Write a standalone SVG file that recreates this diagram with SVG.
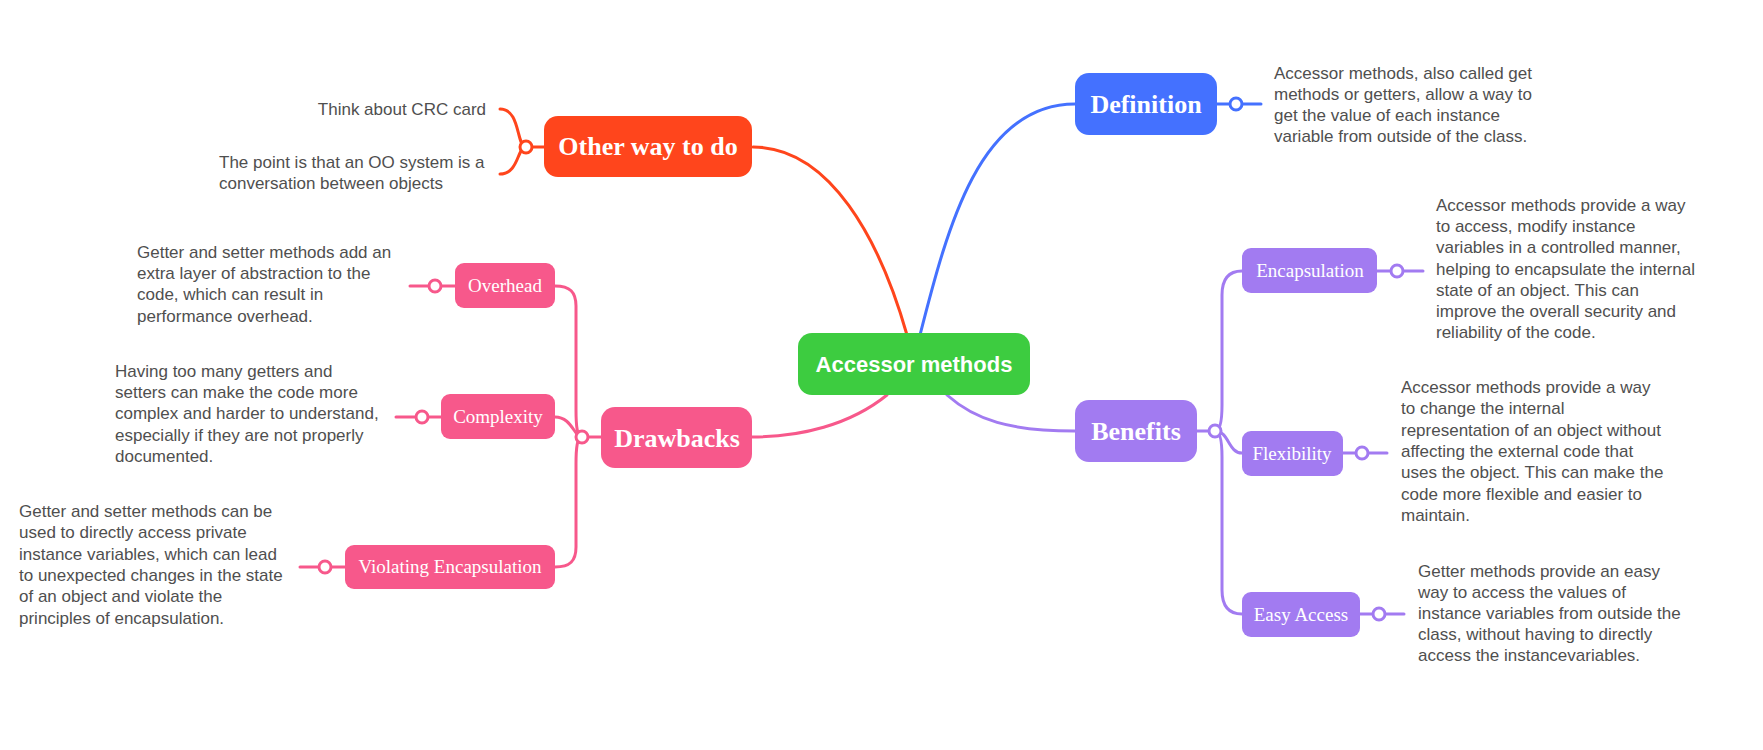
<svg xmlns="http://www.w3.org/2000/svg" width="1763" height="750" viewBox="0 0 1763 750">
<style>
.body{font-family:"Liberation Sans",Arial,sans-serif;font-size:17px;fill:#4f4f4f}
.main{font-family:"Liberation Serif","Times New Roman",serif;font-weight:bold;font-size:26px;fill:#fff;text-anchor:middle}
.sub{font-family:"Liberation Serif","Times New Roman",serif;font-size:19px;fill:#fff;text-anchor:middle}
.center{font-family:"Liberation Sans",Arial,sans-serif;font-weight:bold;font-size:22px;fill:#fff;text-anchor:middle}
.c{fill:none;stroke-width:3;stroke-linecap:round}
.dot{fill:#fff;stroke-width:3}
.red{stroke:#ff451c}.blue{stroke:#4471ff}.pur{stroke:#a27bf1}.pink{stroke:#f7588b}
</style>
<rect width="1763" height="750" fill="#fff"/>
<g id="connectors">
  <path class="c red" d="M753,147 C830,147 880,240 907,335"/>
  <path class="c blue" d="M920,335 C948,225 980,104 1075,104"/>
  <path class="c pink" d="M887,395 C850,425 800,437 752,437"/>
  <path class="c pur" d="M947,395 C975,420 1010,431 1075,431"/>
  <!-- other way -->
  <path class="c red" d="M526,147 L544,147"/>
  <path class="c red" d="M500,109 C521,109 516,147 526,147"/>
  <path class="c red" d="M500,174 C519,174 517,147 526,147"/>
  <!-- definition -->
  <path class="c blue" d="M1217,104 L1261,104"/>
  <!-- drawbacks -->
  <path class="c pink" d="M582,437 L601,437"/>
  <path class="c pink" d="M582,437 C577,437 576,425 576,410 L576,306 C576,292 570,286 555,286"/>
  <path class="c pink" d="M582,437 C577,437 576,449 576,464 L576,547 C576,561 570,567 555,567"/>
  <path class="c pink" d="M555,417 C572,417 574,437 582,437"/>
  <path class="c pink" d="M410,286 L455,286"/>
  <path class="c pink" d="M396,417 L441,417"/>
  <path class="c pink" d="M300,567 L345,567"/>
  <!-- benefits -->
  <path class="c pur" d="M1197,431 L1215,431"/>
  <path class="c pur" d="M1215,431 C1220,431 1222,420 1222,405 L1222,295 C1222,280 1228,271 1242,271"/>
  <path class="c pur" d="M1215,431 C1220,431 1222,442 1222,457 L1222,590 C1222,605 1228,614 1242,614"/>
  <path class="c pur" d="M1215,431 C1229,431 1228,453 1242,453"/>
  <path class="c pur" d="M1377,271 L1423,271"/>
  <path class="c pur" d="M1343,453 L1387,453"/>
  <path class="c pur" d="M1360,614 L1404,614"/>
  <!-- junction dots -->
  <circle class="dot red" cx="526" cy="147" r="6"/>
  <circle class="dot blue" cx="1236" cy="104" r="6"/>
  <circle class="dot pink" cx="582" cy="437" r="6"/>
  <circle class="dot pink" cx="435" cy="286" r="6"/>
  <circle class="dot pink" cx="422" cy="417" r="6"/>
  <circle class="dot pink" cx="325" cy="567" r="6"/>
  <circle class="dot pur" cx="1215" cy="431" r="6"/>
  <circle class="dot pur" cx="1397" cy="271" r="6"/>
  <circle class="dot pur" cx="1362" cy="453" r="6"/>
  <circle class="dot pur" cx="1379" cy="614" r="6"/>
</g>
<g id="central">
  <rect x="798" y="333" width="232" height="62" rx="14" fill="#3dcc40"/>
  <text class="center" x="914" y="372">Accessor methods</text>
</g>
<g id="other-way">
  <rect x="544" y="116" width="208" height="61" rx="14" fill="#ff451c"/>
  <text class="main" x="648" y="155">Other way to do</text>
</g>
<g id="crc-note">
  <text class="body" x="486" y="115" text-anchor="end">Think about CRC card</text>
</g>
<g id="conversation-note">
  <text class="body" x="219" y="168">The point is that an OO system is a</text>
  <text class="body" x="219" y="189">conversation between objects</text>
</g>
<g id="definition">
  <rect x="1075" y="73" width="142" height="62" rx="14" fill="#4471ff"/>
  <text class="main" x="1146" y="113">Definition</text>
</g>
<g id="definition-note">
  <text class="body" x="1274" y="79">Accessor methods, also called get</text>
  <text class="body" x="1274" y="100">methods or getters, allow a way to</text>
  <text class="body" x="1274" y="121">get the value of each instance</text>
  <text class="body" x="1274" y="142">variable from outside of the class.</text>
</g>
<g id="drawbacks">
  <rect x="601" y="407" width="151" height="61" rx="14" fill="#f7588b"/>
  <text class="main" x="677" y="447">Drawbacks</text>
</g>
<g id="overhead">
  <rect x="455" y="263" width="100" height="45" rx="9" fill="#f7588b"/>
  <text class="sub" x="505" y="292">Overhead</text>
</g>
<g id="overhead-note">
  <text class="body" x="137" y="258">Getter and setter methods add an</text>
  <text class="body" x="137" y="279">extra layer of abstraction to the</text>
  <text class="body" x="137" y="300">code, which can result in</text>
  <text class="body" x="137" y="322">performance overhead.</text>
</g>
<g id="complexity">
  <rect x="441" y="394" width="114" height="45" rx="9" fill="#f7588b"/>
  <text class="sub" x="498" y="423">Complexity</text>
</g>
<g id="complexity-note">
  <text class="body" x="115" y="377">Having too many getters and</text>
  <text class="body" x="115" y="398">setters can make the code more</text>
  <text class="body" x="115" y="419">complex and harder to understand,</text>
  <text class="body" x="115" y="441">especially if they are not properly</text>
  <text class="body" x="115" y="462">documented.</text>
</g>
<g id="violating">
  <rect x="345" y="545" width="210" height="44" rx="9" fill="#f7588b"/>
  <text class="sub" x="450" y="573">Violating Encapsulation</text>
</g>
<g id="violating-note">
  <text class="body" x="19" y="517">Getter and setter methods can be</text>
  <text class="body" x="19" y="538">used to directly access private</text>
  <text class="body" x="19" y="560">instance variables, which can lead</text>
  <text class="body" x="19" y="581">to unexpected changes in the state</text>
  <text class="body" x="19" y="602">of an object and violate the</text>
  <text class="body" x="19" y="624">principles of encapsulation.</text>
</g>
<g id="benefits">
  <rect x="1075" y="400" width="122" height="62" rx="14" fill="#a27bf1"/>
  <text class="main" x="1136" y="440">Benefits</text>
</g>
<g id="encapsulation">
  <rect x="1242" y="248" width="135" height="45" rx="9" fill="#a27bf1"/>
  <text class="sub" x="1310" y="277">Encapsulation</text>
</g>
<g id="encapsulation-note">
  <text class="body" x="1436" y="211">Accessor methods provide a way</text>
  <text class="body" x="1436" y="232">to access, modify instance</text>
  <text class="body" x="1436" y="253">variables in a controlled manner,</text>
  <text class="body" x="1436" y="275">helping to encapsulate the internal</text>
  <text class="body" x="1436" y="296">state of an object. This can</text>
  <text class="body" x="1436" y="317">improve the overall security and</text>
  <text class="body" x="1436" y="338">reliability of the code.</text>
</g>
<g id="flexibility">
  <rect x="1242" y="431" width="101" height="45" rx="9" fill="#a27bf1"/>
  <text class="sub" x="1292" y="460">Flexibility</text>
</g>
<g id="flexibility-note">
  <text class="body" x="1401" y="393">Accessor methods provide a way</text>
  <text class="body" x="1401" y="414">to change the internal</text>
  <text class="body" x="1401" y="436">representation of an object without</text>
  <text class="body" x="1401" y="457">affecting the external code that</text>
  <text class="body" x="1401" y="478">uses the object. This can make the</text>
  <text class="body" x="1401" y="500">code more flexible and easier to</text>
  <text class="body" x="1401" y="521">maintain.</text>
</g>
<g id="easy-access">
  <rect x="1242" y="592" width="118" height="45" rx="9" fill="#a27bf1"/>
  <text class="sub" x="1301" y="621">Easy Access</text>
</g>
<g id="easy-access-note">
  <text class="body" x="1418" y="577">Getter methods provide an easy</text>
  <text class="body" x="1418" y="598">way to access the values of</text>
  <text class="body" x="1418" y="619">instance variables from outside the</text>
  <text class="body" x="1418" y="640">class, without having to directly</text>
  <text class="body" x="1418" y="661">access the instancevariables.</text>
</g>
</svg>
